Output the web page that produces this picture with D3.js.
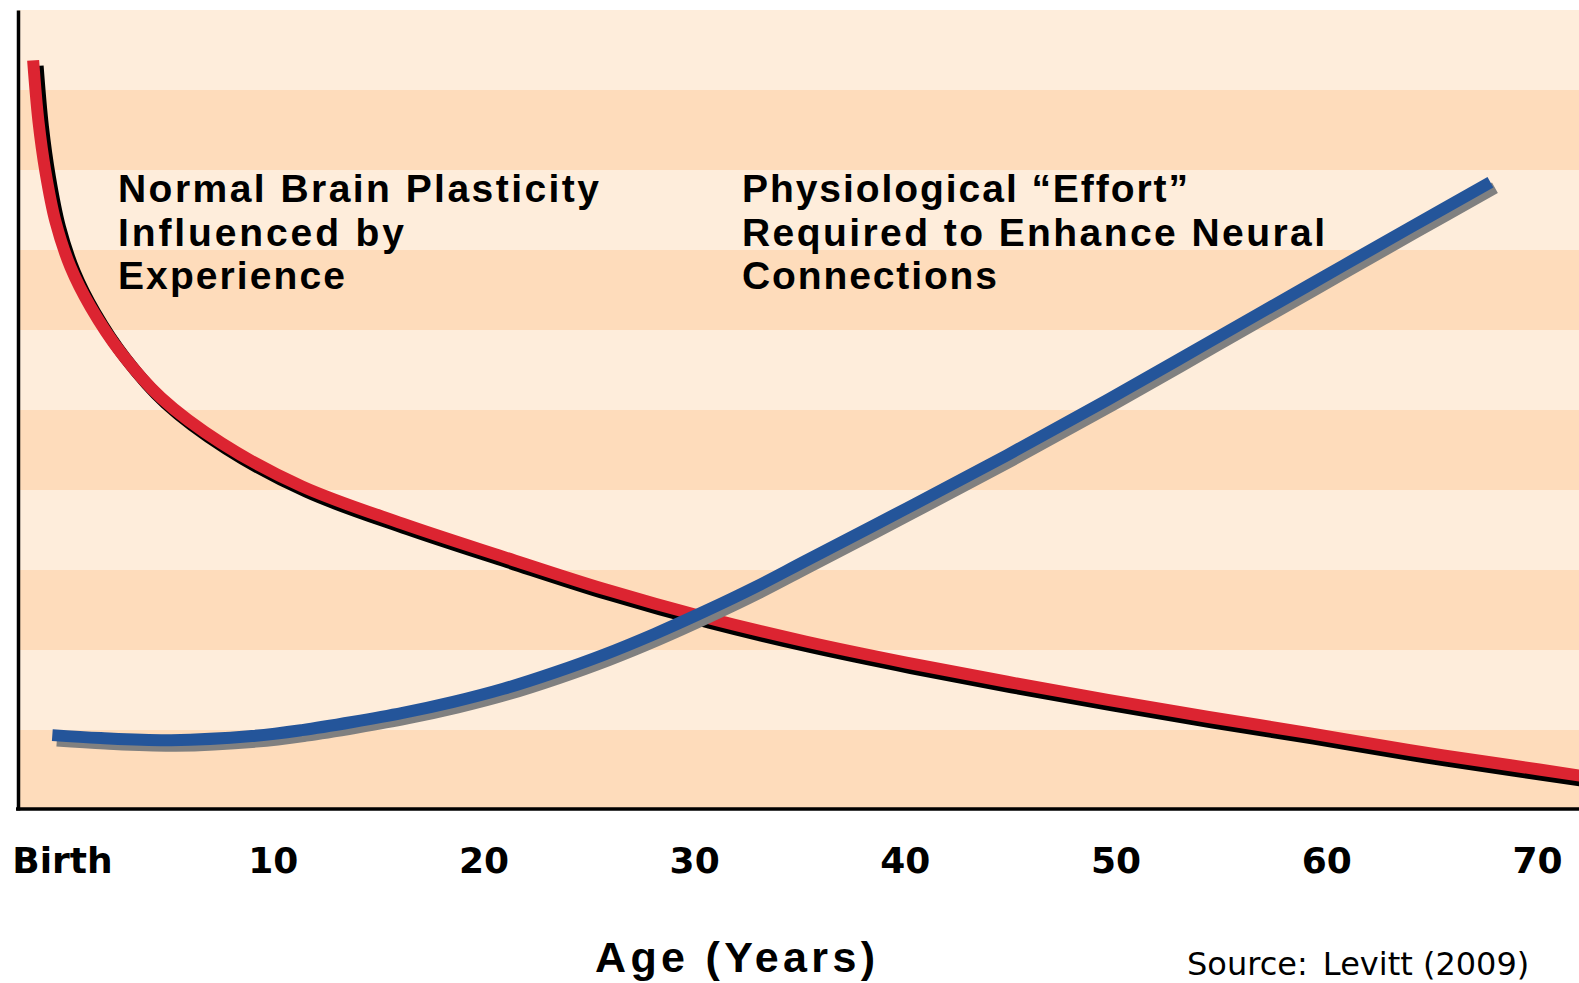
<!DOCTYPE html>
<html>
<head>
<meta charset="utf-8">
<script src="https://cdn.jsdelivr.net/npm/d3@7"></script>
<style>
  html, body { margin: 0; padding: 0; background: #ffffff; }
  svg { display: block; }
</style>
</head>
<body>
<svg id="chart" width="1579" height="983"></svg>
<script>
// ---- Data ----
const tickValues = [0, 10, 20, 30, 40, 50, 60, 70];
const tickLabels = ["Birth", "10", "20", "30", "40", "50", "60", "70"];

// Normal brain plasticity (arbitrary units 0-100) vs age in years
const plasticityAge = [-1.37, -1.12, -0.79, -0.31, 0.40, 1.36, 2.79, 4.70, 7.57, 11.39, 16.17, 20.95, 25.73, 30.51, 35.29, 40.07, 44.85, 49.63, 54.41, 59.19, 63.97, 68.74, 72.3];
const plasticityVal = [93.7, 86.15, 79.85, 73.56, 67.89, 62.86, 57.19, 51.53, 45.86, 40.45, 35.79, 31.64, 27.61, 24.09, 21.06, 18.43, 16.03, 13.76, 11.63, 9.61, 7.48, 5.59, 4.2];

// Physiological effort (arbitrary units 0-100) vs age in years
const effortAge = [-0.46, 1.84, 5.18, 9.01, 11.39, 13.79, 16.17, 18.57, 20.95, 23.34, 25.73, 28.12, 30.51, 32.9, 35.29, 40.07, 44.85, 49.63, 54.41, 59.19, 63.97, 67.79];
const effortVal = [9.36, 8.99, 8.73, 9.24, 9.99, 11.0, 12.13, 13.51, 15.15, 17.16, 19.43, 22.01, 24.84, 27.86, 31.14, 37.69, 44.35, 51.28, 58.45, 65.63, 72.8, 78.46];

const leftNote = ["Normal Brain Plasticity", "Influenced by", "Experience"];
const rightNote = ["Physiological \u201CEffort\u201D", "Required to Enhance Neural", "Connections"];
const xTitle = "Age (Years)";
const sourceParts = ["Source:", " Levitt (2009)"];

// ---- Layout ----
const W = 1579, H = 983;
const svg = d3.select("#chart");

const x = d3.scaleLinear().domain([0, 70]).range([62, 1537]);
const y = d3.scaleLinear().domain([0, 100]).range([810, 10]);

// background bands
const bandStarts = d3.range(0, 100, 10);
svg.append("g").selectAll("rect")
  .data(bandStarts)
  .join("rect")
  .attr("x", 18)
  .attr("width", W - 18)
  .attr("y", d => y(d + 10))
  .attr("height", d => y(d) - y(d + 10))
  .attr("fill", d => ((d / 10) % 2 === 0) ? "#FEDCBB" : "#FEEDDB");

// line generators
const lineGen = d3.line()
  .x(d => x(d[0]))
  .y(d => y(d[1]))
  .curve(d3.curveCatmullRom.alpha(0.5));

const redData = plasticityAge.map((a, i) => [a, plasticityVal[i]]);
const blueData = effortAge.map((a, i) => [a, effortVal[i]]);

const lines = svg.append("g");
function drawLine(data, color, shadow) {
  lines.append("path")
    .attr("d", lineGen(data))
    .attr("fill", "none")
    .attr("stroke", shadow)
    .attr("stroke-width", 12)
    .attr("stroke-linecap", "butt")
    .attr("stroke-linejoin", "round")
    .attr("transform", "translate(4.5,5.5)");
  lines.append("path")
    .attr("d", lineGen(data))
    .attr("fill", "none")
    .attr("stroke", color)
    .attr("stroke-width", 12)
    .attr("stroke-linecap", "butt")
    .attr("stroke-linejoin", "round");
}
drawLine(redData, "#DC2431", "#000000");
drawLine(blueData, "#24559A", "#808080");

// axes
const yAxis = d3.axisLeft(y).tickValues([]).tickSizeOuter(0);
svg.append("g")
  .attr("transform", "translate(18,0)")
  .call(yAxis)
  .call(g => g.select(".domain").attr("stroke", "#000").attr("stroke-width", 3.5));

svg.append("line")
  .attr("x1", 16).attr("x2", W)
  .attr("y1", 809).attr("y2", 809)
  .attr("stroke", "#000").attr("stroke-width", 3.5);

const xAxis = d3.axisBottom(x)
  .tickValues(tickValues)
  .tickFormat((d, i) => tickLabels[i])
  .tickSize(0);
svg.append("g")
  .attr("transform", "translate(0,809)")
  .call(xAxis)
  .call(g => g.select(".domain").remove())
  .call(g => g.selectAll("text")
    .attr("y", 64)
    .attr("dy", 0)
    .attr("fill", "#000")
    .attr("font-family", "'DejaVu Sans', Verdana, sans-serif")
    .attr("font-weight", "bold")
    .attr("font-size", 36));

// annotations
const noteFont = "'Liberation Sans', Arial, sans-serif";
const baselines = [202, 246, 289];
const leftWidths = [481, 286, 227];
const rightWidths = [446, 583, 255];
function note(lines, xPos, widths) {
  svg.append("g").selectAll("text")
    .data(lines)
    .join("text")
    .attr("x", xPos)
    .attr("y", (d, i) => baselines[i])
    .attr("textLength", (d, i) => widths[i])
    .attr("lengthAdjust", "spacing")
    .attr("font-family", noteFont)
    .attr("font-weight", "bold")
    .attr("font-size", 39)
    .attr("fill", "#000")
    .text(d => d);
}
note(leftNote, 118, leftWidths);
note(rightNote, 742, rightWidths);

// axis title
svg.append("text")
  .attr("x", 595)
  .attr("y", 972)
  .attr("textLength", 280)
  .attr("lengthAdjust", "spacing")
  .attr("font-family", noteFont)
  .attr("font-weight", "bold")
  .attr("font-size", 43)
  .attr("fill", "#000")
  .text(xTitle);

// source
const src = svg.append("text")
  .attr("x", 1187)
  .attr("y", 975)
  .attr("font-family", "'DejaVu Sans', Verdana, sans-serif")
  .attr("font-size", 32)
  .attr("fill", "#000");
src.append("tspan").text(sourceParts[0]);
src.append("tspan").attr("dx", 5).text(sourceParts[1]);
</script>
</body>
</html>
